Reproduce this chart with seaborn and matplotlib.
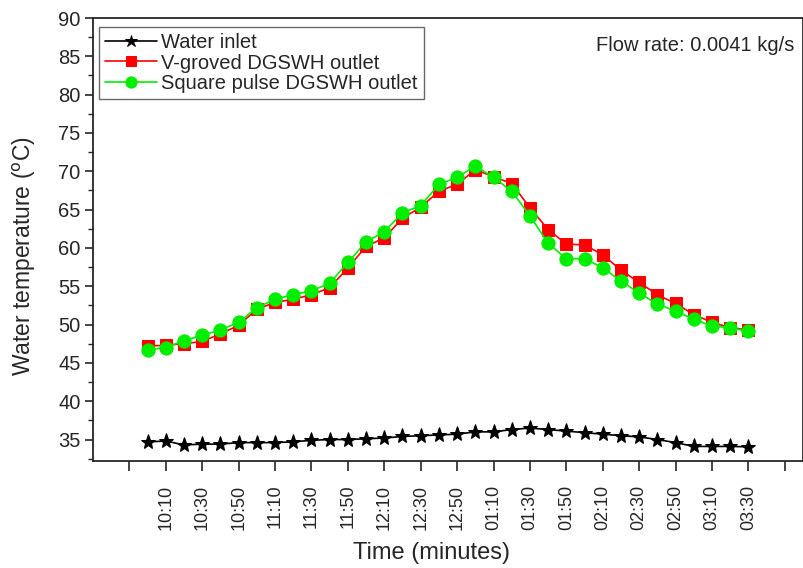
import seaborn as sns
import matplotlib.pyplot as plt
from matplotlib.ticker import MultipleLocator
import numpy as np
import pandas as pd

# readings every 10 min starting 10:00, minutes after 10:00
minutes = np.arange(0, 340, 10)

water_inlet = [34.7, 34.8, 34.3, 34.4, 34.4, 34.6, 34.6, 34.6, 34.7, 34.9,
               35.0, 35.0, 35.1, 35.2, 35.4, 35.5, 35.6, 35.7, 36.0, 36.0,
               36.3, 36.5, 36.3, 36.1, 35.9, 35.7, 35.5, 35.35, 35.0, 34.6,
               34.1, 34.1, 34.1, 34.05]
v_groved = [47.2, 47.3, 47.5, 47.8, 48.8, 49.9, 52.0, 52.9, 53.3, 53.9,
            54.8, 57.4, 60.2, 61.3, 63.9, 65.3, 67.4, 68.3, 70.2, 69.3,
            68.4, 65.25, 62.4, 60.5, 60.4, 59.1, 57.1, 55.5, 53.9, 52.75,
            51.3, 50.3, 49.6, 49.3]
square_pulse = [46.7, 47.0, 47.9, 48.6, 49.3, 50.3, 52.2, 53.3, 53.9, 54.4,
                55.4, 58.1, 60.8, 62.1, 64.6, 65.5, 68.3, 69.2, 70.7, 69.2,
                67.4, 64.2, 60.6, 58.6, 58.6, 57.4, 55.7, 54.1, 52.7, 51.75,
                50.7, 49.8, 49.6, 49.1]

tick_minutes = [-10, 10, 30, 50, 70, 90, 110, 130, 150, 170, 190, 210, 230,
                250, 270, 290, 310, 330, 350]
tick_labels = ["", "10:10", "10:30", "10:50", "11:10", "11:30", "11:50",
               "12:10", "12:30", "12:50", "01:10", "01:30", "01:50", "02:10",
               "02:30", "02:50", "03:10", "03:30", ""]

df = pd.DataFrame({"t": minutes, "inlet": water_inlet,
                   "vg": v_groved, "sp": square_pulse})

sns.set_style("ticks")
plt.rcParams["font.family"] = ["Liberation Sans", "DejaVu Sans"]

fig = plt.figure(figsize=(8.04, 5.68), dpi=100)
ax = fig.add_axes([93/804, 1-461/568, 710/804, (461-18)/568])

sns.lineplot(data=df, x="t", y="inlet", ax=ax, color="black", marker="*",
             markersize=11, markeredgecolor="black", linewidth=1.2,
             label="Water inlet")
sns.lineplot(data=df, x="t", y="vg", ax=ax, color="#ff0000", marker="s",
             markersize=8.5, markeredgecolor="#ff0000", linewidth=1.2,
             label="V-groved DGSWH outlet")
sns.lineplot(data=df, x="t", y="sp", ax=ax, color="#00ee00", marker="o",
             markersize=9.5, markeredgecolor="#00ee00", linewidth=1.2,
             label="Square pulse DGSWH outlet")

ax.set_xlim(-30, 360)
ax.set_ylim(32.2, 90)
ax.set_xticks(tick_minutes)
ax.set_xticklabels(tick_labels, rotation=90, fontsize=13)
ax.yaxis.set_major_locator(MultipleLocator(5))
ax.yaxis.set_minor_locator(MultipleLocator(2.5))
ax.tick_params(axis="y", labelsize=14.5, length=6, width=1.2, pad=3)
ax.tick_params(axis="y", which="minor", length=3.5, width=1)
ax.tick_params(axis="x", length=7, width=1.2, pad=10)
for s in ax.spines.values():
    s.set_linewidth(1.3)

ax.set_xlabel("Time (minutes)", fontsize=17)
ax.set_ylabel(r"Water temperature ($^\mathrm{o}$C)", fontsize=16.5)
ax.xaxis.set_label_coords(0.477, -0.183)
ax.yaxis.set_label_coords(-0.077, 0.463)

ax.text(0.988, 0.96, "Flow rate: 0.0041 kg/s", transform=ax.transAxes,
        ha="right", va="top", fontsize=14.5)

leg = ax.legend(loc="upper left", fontsize=14.5, frameon=True, fancybox=False,
                edgecolor="#444444", bbox_to_anchor=(0.008, 0.98),
                borderaxespad=0, handlelength=2.6, handletextpad=0.2,
                labelspacing=0.08, borderpad=0.3, markerscale=0.85)
leg.get_frame().set_linewidth(1.0)

fig.savefig("out.png", dpi=100)
